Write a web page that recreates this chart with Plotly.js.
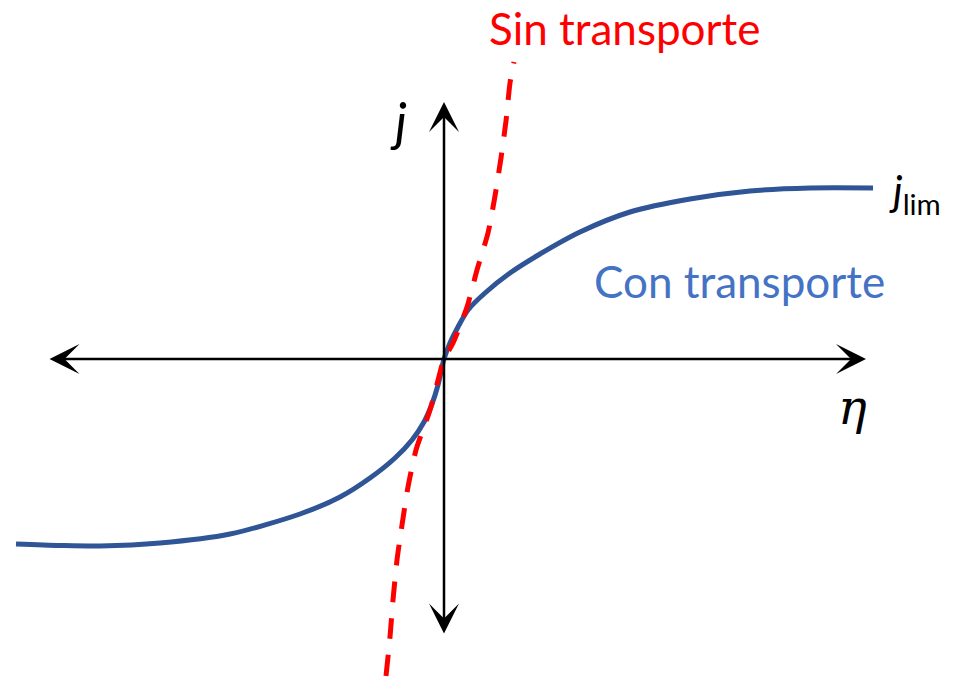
<!DOCTYPE html>
<html>
<head>
<meta charset="utf-8">
<script src="https://cdn.plot.ly/plotly-3.0.1.min.js"></script>
<style>html,body{margin:0;padding:0;background:#fff;}#chart{width:959px;height:678px;}</style>
</head>
<body>
<div id="chart"></div>
<script>
// Coordinates: eta (x) and j (y), origin at axes crossing
const conEta = [-428, -384, -344, -284, -214, -144, -104, -74, -49, -32, -20, -12, -6, 0, 6, 14, 24, 41, 66, 96, 136, 186, 246, 306, 366, 429];
const conJ   = [-185, -186.5, -187, -184, -175, -155, -138, -119, -99, -81, -63, -45, -26, 0, 16, 32, 49, 66, 86, 105, 127, 147, 160, 168, 171, 171];

const sinEta = [-58, -54, -51, -47, -42, -36, -28, -14, -2, 0, 9, 23, 33, 44, 51, 57, 62, 66, 70];
const sinJ   = [-317, -278, -241, -201, -166, -128, -91, -51, -6, 0, 16, 52, 89, 126, 163, 201, 238, 276, 297];

const labelSin = "Sin transporte";
const labelCon = "Con transporte";
const labelJ = "j";
const labelEta = "η";
const labelJlim = "lim";

const traces = [
  {x: conEta, y: conJ, mode: 'lines', line: {color: '#2F5597', width: 5, shape: 'spline', smoothing: 0.8}, hoverinfo: 'skip'},
  {x: sinEta, y: sinJ, mode: 'lines', line: {color: '#FF0000', width: 5, dash: '21px,16px', shape: 'spline', smoothing: 0.6}, hoverinfo: 'skip'}
];

const font = "Lato, 'Open Sans', sans-serif";
const layout = {
  width: 959, height: 678,
  margin: {l: 0, r: 0, t: 0, b: 0},
  paper_bgcolor: '#fff', plot_bgcolor: '#fff',
  showlegend: false,
  xaxis: {range: [-444, 515], visible: false, fixedrange: true},
  yaxis: {range: [-319, 359], visible: false, fixedrange: true},
  annotations: [
    // horizontal axis (double arrow)
    {x: 422, y: 0, ax: -396, ay: 0, xref: 'x', yref: 'y', axref: 'x', ayref: 'y', text: '',
     showarrow: true, arrowhead: 3, startarrowhead: 3, arrowside: 'end+start', arrowwidth: 2.5, arrowsize: 2, startarrowsize: 2, arrowcolor: '#000'},
    // vertical axis (double arrow)
    {x: 0, y: 257, ax: 0, ay: -276, xref: 'x', yref: 'y', axref: 'x', ayref: 'y', text: '',
     showarrow: true, arrowhead: 3, startarrowhead: 3, arrowside: 'end+start', arrowwidth: 2.5, arrowsize: 2, startarrowsize: 2, arrowcolor: '#000'},
    {x: 180, y: 331, xref: 'x', yref: 'y', text: labelSin, showarrow: false,
     font: {family: font, size: 44, color: '#FF0000'}},
    {x: 295, y: 78, xref: 'x', yref: 'y', text: labelCon, showarrow: false,
     font: {family: font, size: 44, color: '#4472C4'}},
    {x: -46, y: 238, xref: 'x', yref: 'y', text: '<i>' + labelJ + '</i>', showarrow: false,
     font: {family: font, size: 52, color: '#000'}},
    {x: 408, y: -48, xref: 'x', yref: 'y', text: '<i>' + labelEta + '</i>', showarrow: false,
     font: {family: "'DejaVu Serif', serif", size: 48, color: '#000'}},
    {x: 443, y: 166, xref: 'x', yref: 'y', xanchor: 'left', text: '<i>j</i><sub>' + labelJlim + '</sub>', showarrow: false,
     font: {family: font, size: 42, color: '#000'}}
  ]
};

Plotly.newPlot('chart', traces, layout, {staticPlot: true, displayModeBar: false});
</script>
</body>
</html>
